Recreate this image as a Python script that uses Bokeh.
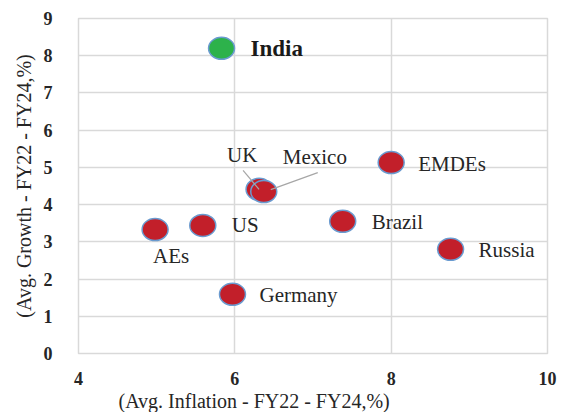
from bokeh.plotting import figure
from bokeh.models import Range1d, FixedTicker, ColumnDataSource, Title
from bokeh.embed import file_html
from bokeh.resources import INLINE
from bokeh.core.properties import value

# ---- data ----
names = ["India", "UK", "Mexico", "EMDEs", "Brazil", "Russia", "US", "AEs", "Germany"]
inflation = [5.83, 6.31, 6.37, 8.0, 7.38, 8.76, 5.59, 4.98, 5.97]
growth = [8.2, 4.41, 4.35, 5.13, 3.55, 2.8, 3.44, 3.33, 1.59]
x_ticks = [4, 6, 8, 10]
y_ticks = [0, 1, 2, 3, 4, 5, 6, 7, 8, 9]
x_title = "(Avg. Inflation -  FY22 - FY24,%)"
y_title = "(Avg. Growth - FY22 - FY24,%)"

# ---- styles ----
RED = "#C21F2A"
GREEN = "#2DB24B"
EDGE = "#6A9BD0"
fills = [GREEN if n == "India" else RED for n in names]
# label offsets in screen pixels (dx right, dy down)
lab_dx = [29, -32, 19, 27, 29, 28, 29, -2, 27]
lab_dy = [0, -34, -35, 1, 1, 1, 0, 26, 1]
FONT = "Liberation Serif"

W, H = 561, 412
BL, BR, BT, BB = 78, 14, 18, 59
XMIN, XMAX, YMIN, YMAX = 4, 10, 0, 9
pxx = (W - BL - BR) / (XMAX - XMIN)
pxy = (H - BT - BB) / (YMAX - YMIN)

p = figure(width=W, height=H, output_backend="svg", toolbar_location=None,
           x_range=Range1d(XMIN, XMAX), y_range=Range1d(YMIN, YMAX),
           min_border_left=BL, min_border_right=BR, min_border_top=BT,
           min_border_bottom=BB)
p.background_fill_color = "white"
p.border_fill_color = "white"
p.outline_line_color = "#D9D9D9"
p.outline_line_width = 1.5

for ax in (p.xaxis[0], p.yaxis[0]):
    ax.axis_line_color = None
    ax.major_tick_line_color = None
    ax.minor_tick_line_color = None
    ax.major_label_text_font = FONT
    ax.major_label_text_font_style = "bold"
    ax.major_label_text_font_size = "18px"
    ax.major_label_text_color = "#262626"
p.xaxis.ticker = FixedTicker(ticks=x_ticks)
p.yaxis.ticker = FixedTicker(ticks=y_ticks)
p.xaxis.major_label_standoff = 12
p.yaxis.major_label_standoff = 20

p.yaxis.axis_label = y_title
p.yaxis.axis_label_text_font = FONT
p.yaxis.axis_label_text_font_style = "normal"
p.yaxis.axis_label_text_font_size = "20px"
p.yaxis.axis_label_text_color = "#262626"
p.yaxis.axis_label_standoff = 6

t = Title(text=x_title, align="left", offset=40, standoff=0,
          text_font=FONT, text_font_style="normal", text_font_size="20px",
          text_color="#262626")
p.add_layout(t, "below")

p.grid.grid_line_color = "#D9D9D9"
p.grid.grid_line_width = 1.5

src = ColumnDataSource(dict(x=inflation, y=growth, name=names, fill=fills,
                            dx=lab_dx, dy=lab_dy))

p.ellipse(x="x", y="y", width=26, height=22, width_units="screen",
          height_units="screen", fill_color="fill", line_color=EDGE,
          line_width=1.5, source=src)

# leader lines for UK and Mexico
iuk, imx = names.index("UK"), names.index("Mexico")
seg_x0 = [inflation[iuk] - 16 / pxx, inflation[imx] + 54 / pxx]
seg_y0 = [growth[iuk] + 19 / pxy, growth[imx] + 19 / pxy]
seg_x1 = [inflation[iuk], inflation[imx] + 7 / pxx]
seg_y1 = [growth[iuk], growth[imx] + 2 / pxy]
p.segment(seg_x0, seg_y0, seg_x1, seg_y1, line_color="#A6A6A6", line_width=1.2)

normal_idx = [i for i, n in enumerate(names) if n != "India"]
src_n = ColumnDataSource(dict(x=[inflation[i] for i in normal_idx],
                              y=[growth[i] for i in normal_idx],
                              name=[names[i] for i in normal_idx],
                              dx=[lab_dx[i] for i in normal_idx],
                              dy=[lab_dy[i] for i in normal_idx]))
p.text(x="x", y="y", text="name", x_offset="dx", y_offset="dy", source=src_n,
       text_font=value(FONT), text_font_size="21px", text_color="#262626",
       text_align="left", text_baseline="middle")
ii = names.index("India")
p.text(x=[inflation[ii]], y=[growth[ii]], text=[names[ii]],
       x_offset=lab_dx[ii], y_offset=lab_dy[ii],
       text_font=value(FONT), text_font_size="23px", text_font_style="bold",
       text_color="#1a1a1a", text_align="left", text_baseline="middle")

open("out.html", "w").write(file_html(p, INLINE))
